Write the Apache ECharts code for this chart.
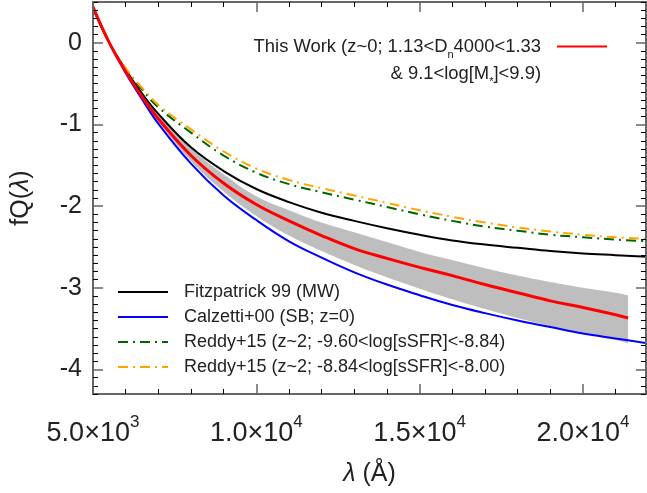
<!DOCTYPE html>
<html>
<head>
<meta charset="utf-8">
<script src="https://cdn.jsdelivr.net/npm/echarts@6.0.0/dist/echarts.min.js"></script>
<style>
  html, body { margin: 0; padding: 0; background: #fff; }
  #chart { width: 647px; height: 493px; }
</style>
</head>
<body>
<div id="chart"></div>
<script>
// wavelength grid (Angstrom)
var lam = [5000, 5500, 6000, 6500, 7000, 8000, 9000, 10000, 11000, 12000, 13000, 14000, 15000, 16000, 17000, 18000, 19000, 20000, 21000, 22000];
var lamThisWork = [5000, 5500, 6000, 6500, 7000, 8000, 9000, 10000, 11000, 12000, 13000, 14000, 15000, 16000, 17000, 18000, 19000, 20000, 21000, 21380];

var fitzpatrick = [0.42, 0.0, -0.33, -0.62, -0.87, -1.28, -1.57, -1.79, -1.95, -2.08, -2.18, -2.27, -2.35, -2.42, -2.47, -2.51, -2.55, -2.58, -2.60, -2.62];
var calzetti = [0.43, 0.0, -0.37, -0.69, -0.99, -1.48, -1.87, -2.17, -2.43, -2.63, -2.81, -2.96, -3.09, -3.21, -3.31, -3.40, -3.48, -3.56, -3.62, -3.68];
var reddyLow = [0.44, 0.0, -0.32, -0.57, -0.79, -1.10, -1.38, -1.59, -1.73, -1.83, -1.92, -2.01, -2.10, -2.18, -2.25, -2.30, -2.35, -2.38, -2.41, -2.43];
var reddyHigh = [0.44, 0.0, -0.31, -0.55, -0.76, -1.06, -1.33, -1.54, -1.68, -1.78, -1.87, -1.96, -2.05, -2.13, -2.20, -2.26, -2.31, -2.35, -2.38, -2.40];
var thisWork = [0.44, 0.0, -0.35, -0.66, -0.93, -1.38, -1.72, -1.98, -2.18, -2.36, -2.52, -2.64, -2.75, -2.85, -2.96, -3.06, -3.16, -3.24, -3.33, -3.37];
// grey uncertainty band around "This Work"
var bandUpper = [0.44, 0.0, -0.33, -0.62, -0.88, -1.29, -1.61, -1.88, -2.05, -2.20, -2.32, -2.44, -2.56, -2.66, -2.76, -2.85, -2.93, -3.00, -3.06, -3.09];
var bandLower = [0.44, 0.0, -0.36, -0.68, -0.97, -1.45, -1.82, -2.12, -2.36, -2.55, -2.72, -2.87, -3.01, -3.14, -3.26, -3.37, -3.47, -3.56, -3.64, -3.68];

var xMajor = [5000, 10000, 15000, 20000];
var yMajor = [-4, -3, -2, -1, 0];

var names = {
    fitz: 'Fitzpatrick 99 (MW)',
    calz: 'Calzetti+00 (SB; z=0)',
    redLo: 'Reddy+15 (z~2; -9.60<log[sSFR]<-8.84)',
    redHi: 'Reddy+15 (z~2; -8.84<log[sSFR]<-8.00)',
    work: 'This Work'
};

var FONT = 'Liberation Sans';
var XMIN = 5000, XMAX = 21930, YMIN = -4.3, YMAX = 0.5;

function pairs(xs, ys) {
    return xs.map(function (x, i) { return [x, ys[i]]; });
}

var xMinor = [], yMinor = [];
for (var v = 6000; v <= 21000; v += 1000) {
    if (xMajor.indexOf(v) < 0) xMinor.push(v);
}
for (var k = -43; k <= 5; k++) {
    if (k % 10 !== 0) yMinor.push(k / 10);
}

function axis(isX, pos, ticks, len, withLabels) {
    var a = {
        type: 'value',
        position: pos,
        z: 5,
        min: isX ? XMIN : YMIN,
        max: isX ? XMAX : YMAX,
        axisLine: { show: true, onZero: false, lineStyle: { color: '#666', width: 2 } },
        axisTick: {
            show: true, inside: true, length: len, customValues: ticks,
            lineStyle: { color: len > 6 ? '#666' : '#000', width: len > 6 ? 1.5 : 1 }
        },
        axisLabel: { show: false },
        splitLine: { show: false }
    };
    if (withLabels && isX) {
        a.axisLabel = {
            show: true, customValues: ticks, margin: 20,
            formatter: function (val) {
                var e = Math.floor(Math.log10(val));
                var m = (val / Math.pow(10, e)).toFixed(1);
                return '{m|' + m + '\u00d710}{s|' + e + '}';
            },
            rich: {
                m: { fontFamily: FONT, fontSize: 27, lineHeight: 40, color: '#222' },
                s: { fontFamily: FONT, fontSize: 17, lineHeight: 17, verticalAlign: 'top', color: '#222' }
            }
        };
        a.name = '{i|\u03bb} (\u00c5)';
        a.nameLocation = 'middle';
        a.nameGap = 68;
        a.nameTextStyle = {
            fontFamily: FONT, fontSize: 25, color: '#222',
            rich: { i: { fontFamily: FONT, fontSize: 25, fontStyle: 'italic', color: '#222' } }
        };
    }
    if (withLabels && !isX) {
        a.axisLabel = {
            show: true, customValues: ticks, margin: 11,
            fontFamily: FONT, fontSize: 25, color: '#222',
            formatter: function (val) { return String(val); }
        };
        a.name = 'fQ({i|\u03bb})';
        a.nameLocation = 'middle';
        a.nameGap = 59;
        a.nameTextStyle = {
            fontFamily: FONT, fontSize: 25, color: '#222',
            rich: { i: { fontFamily: FONT, fontSize: 25, fontStyle: 'italic', color: '#222' } }
        };
    }
    return a;
}

function curve(name, xs, ys, color, width, dash) {
    return {
        name: name, type: 'line', data: pairs(xs, ys),
        smooth: 0.4, symbol: 'none', silent: true,
        lineStyle: { color: color, width: width, type: dash || 'solid' },
        itemStyle: { color: color }
    };
}

// band = grey area under the upper edge, then white area under the lower edge
function bandEdge(name, ys, fill) {
    return {
        name: name, type: 'line', data: pairs(lamThisWork, ys),
        smooth: 0.4, symbol: 'none', silent: true,
        lineStyle: { width: 0, opacity: 0 },
        areaStyle: { color: fill, opacity: 1, origin: 'start' }
    };
}

var chart = echarts.init(document.getElementById('chart'), null, { renderer: 'canvas' });

var dashDot = [10, 5, 2, 5];

chart.setOption({
    animation: false,
    backgroundColor: '#fff',
    grid: { left: 93, right: 1, top: 2, bottom: 99, containLabel: false },
    xAxis: [
        axis(true, 'bottom', xMajor, 10, true),
        axis(true, 'bottom', xMinor, 5, false),
        axis(true, 'top', xMajor, 10, false),
        axis(true, 'top', xMinor, 5, false)
    ],
    yAxis: [
        axis(false, 'left', yMajor, 10, true),
        axis(false, 'left', yMinor, 5, false),
        axis(false, 'right', yMajor, 10, false),
        axis(false, 'right', yMinor, 5, false)
    ],
    legend: [
        {
            data: [names.fitz, names.calz, names.redLo, names.redHi],
            orient: 'vertical', left: 117, top: 283, padding: 0,
            itemWidth: 50, itemHeight: 14, itemGap: 7,
            selectedMode: false,
            itemStyle: { opacity: 0 },
            textStyle: { fontFamily: FONT, fontSize: 18, lineHeight: 18, color: '#222', padding: [0, 0, 0, 11] }
        },
        {
            data: [names.work],
            orient: 'vertical', right: 39, top: 6, padding: 0, align: 'right',
            itemWidth: 50, itemHeight: 14,
            selectedMode: false,
            itemStyle: { opacity: 0 },
            formatter: function () {
                return '\n{t|This Work (z~0; 1.13<D}{s|n}{t|4000<1.33}\n{t|& 9.1<log[M}{s|*}{t|]<9.9)}';
            },
            textStyle: {
                fontFamily: FONT, fontSize: 18, lineHeight: 27, color: '#222', padding: [0, 11, 0, 0],
                rich: {
                    t: { fontFamily: FONT, fontSize: 18.4, lineHeight: 27, color: '#222' },
                    s: { fontFamily: FONT, fontSize: 11, lineHeight: 10, verticalAlign: 'bottom', color: '#222' }
                }
            }
        }
    ],
    series: [
        bandEdge('bandUpper', bandUpper, '#bebebe'),
        bandEdge('bandLower', bandLower, '#ffffff'),
        curve(names.calz, lam, calzetti, '#0000ff', 2),
        curve(names.fitz, lam, fitzpatrick, '#000000', 2),
        curve(names.redLo, lam, reddyLow, '#006400', 2, dashDot),
        curve(names.redHi, lam, reddyHigh, '#ffa500', 2, dashDot),
        curve(names.work, lamThisWork, thisWork, '#ff0000', 3)
    ]
});
</script>
</body>
</html>
